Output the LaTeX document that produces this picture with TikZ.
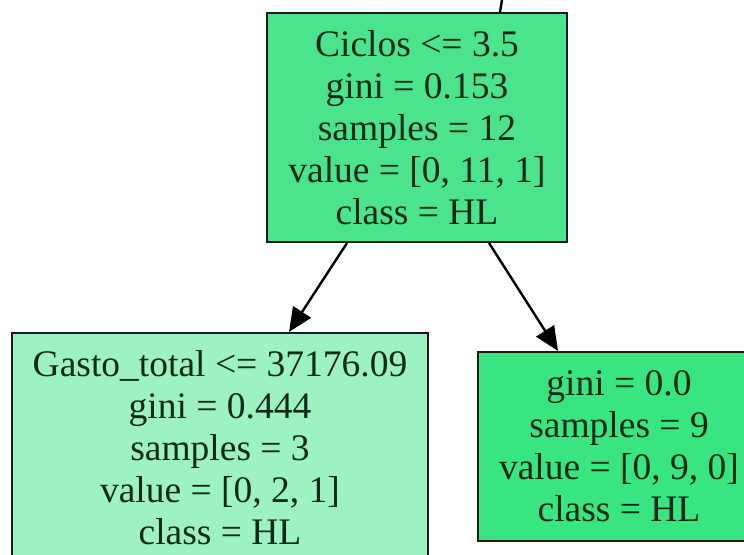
\documentclass[tikz,border=0pt]{standalone}
\usepackage{fontspec}
\setmainfont{Liberation Serif}
\usetikzlibrary{arrows.meta,calc}
\definecolor{rootfill}{HTML}{4BE38D}
\definecolor{leftfill}{HTML}{9CF2C0}
\definecolor{rightfill}{HTML}{39E581}
\definecolor{textcol}{HTML}{0E2A16}
\tikzset{
  treenode/.style={draw=black!90, line width=2pt, inner sep=0pt, align=center,
    font=\fontsize{37.5}{42}\selectfont, text=textcol},
  edgearrow/.style={draw=black, line width=2.4pt, -{Triangle[length=24pt,width=21pt]}}
}
\begin{document}
\begin{tikzpicture}[x=1pt,y=1pt]
\useasboundingbox (0,0) rectangle (744,-554);
\clip (0,0) rectangle (744,-554);
\fill[white] (0,0) rectangle (744,-554);
\node[treenode, fill=rootfill, minimum width=300pt, minimum height=229pt] (root) at (417,-127.5)
  {Ciclos <= 3.5\\gini = 0.153\\samples = 12\\value = [0, 11, 1]\\class = HL};
\node[treenode, fill=leftfill, minimum width=416pt, minimum height=229pt] (left) at (220,-447.5)
  {Gasto\_total <= 37176.09\\gini = 0.444\\samples = 3\\value = [0, 2, 1]\\class = HL};
\node[treenode, fill=rightfill, minimum width=282pt, minimum height=189pt] (right) at (619,-446.5)
  {gini = 0.0\\samples = 9\\value = [0, 9, 0]\\class = HL};
\coordinate (parentstub) at (502,0);
\draw[black, line width=2.4pt] ($(root.north)+(83,0)$) -- (parentstub);
\draw[edgearrow] ($(root.south)+(-70,0)$) -- ($(left.north)+(69,0)$);
\draw[edgearrow] ($(root.south)+(72,0)$) -- ($(right.north)+(-61,0)$);
\end{tikzpicture}
\end{document}
